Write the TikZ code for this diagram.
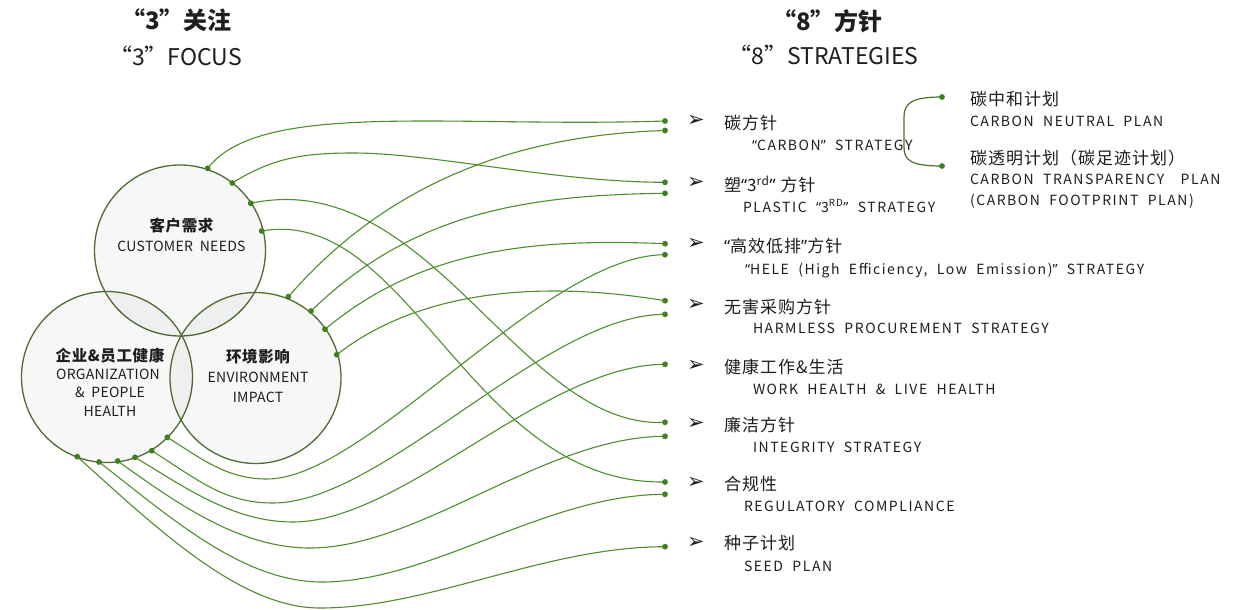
\documentclass[tikz,border=0pt]{standalone}
\usepackage{fontspec}
\setmainfont{Noto Sans CJK SC}
\newfontfamily\cjkl{Noto Sans CJK SC}[LetterSpace=6]
\newfontfamily\cjkc{Noto Sans CJK SC}[LetterSpace=4]
\newfontfamily\enf{Noto Sans CJK SC}[LetterSpace=11,WordSpace=2]
\newfontfamily\enc{Noto Sans CJK SC}[LetterSpace=2,WordSpace=2]
\newfontfamily\qf{Noto Sans}
\newfontfamily\dvs{DejaVu Sans}
\newcommand\oq{{\qf “}}
\newcommand\cq{{\qf ”}}
\newcommand\szL{\fontsize{17}{20}\selectfont}
\newcommand\szE{\fontsize{14}{17}\selectfont}
\newcommand\szC{\fontsize{15.5}{18}\selectfont}
\newcommand\szT{\fontsize{24}{28}\selectfont}
\newcommand\szTE{\fontsize{23}{27}\selectfont}
\definecolor{lnk}{RGB}{78,142,44}
\definecolor{dotc}{RGB}{62,128,30}
\definecolor{circ}{RGB}{78,108,52}
\definecolor{txt}{RGB}{30,30,30}
\begin{document}
\begin{tikzpicture}[x=1pt,y=-1pt,
  every node/.style={inner sep=0pt,outer sep=0pt,text=txt},
  ring/.style={draw=circ,line width=1.3pt,fill=black,fill opacity=0.03},
  link/.style={draw=lnk,line width=1.1pt},
  jdot/.style={fill=dotc,draw=none},
  cjk/.style={anchor=west,font=\cjkl\szL,text height=12.6pt,text depth=0pt},
  en/.style={anchor=west,font=\enf\szE,text height=10.3pt,text depth=0pt},
  ccjk/.style={anchor=center,font=\cjkc\szC\bfseries,text height=11.5pt,text depth=0pt},
  cen/.style={anchor=center,font=\enc\szE,text height=10.3pt,text depth=0pt},
  bul/.style={anchor=center,font=\dvs\fontsize{21}{23}\selectfont},
  ttl/.style={anchor=center,font=\szT\bfseries,text height=17.8pt,text depth=0pt},
  ttle/.style={anchor=center,font=\szTE,text height=17pt,text depth=0pt}]
\fill[white] (0,0) rectangle (1255,610);
\useasboundingbox (0,0) rectangle (1255,610);

% circles
\path[ring] (180,250.5) circle (85.5);
\path[ring] (107,377) circle (85.5);
\path[ring] (255.5,378) circle (85.5);

% left end points
\coordinate (c1) at (207.7,168.3);
\coordinate (c2) at (232.3,183);
\coordinate (c3) at (250.7,203.3);
\coordinate (c4) at (261.7,231);
\coordinate (e1) at (288.3,296.7);
\coordinate (e2) at (311,311);
\coordinate (e3) at (325,329.3);
\coordinate (e4) at (336.7,354.7);
\coordinate (o1) at (167.3,437.3);
\coordinate (o2) at (151.7,450.7);
\coordinate (o3) at (135,457.3);
\coordinate (o4) at (117.7,461);
\coordinate (o5) at (99,462);
\coordinate (o6) at (77.3,456.7);
% right end points
\coordinate (r1a) at (665,121);
\coordinate (r1b) at (665,130.5);
\coordinate (r2a) at (665,182.3);
\coordinate (r2b) at (665,193.3);
\coordinate (r3a) at (665,243.7);
\coordinate (r3b) at (665,254.7);
\coordinate (r4a) at (665,300.7);
\coordinate (r4b) at (665,314.3);
\coordinate (r5) at (665,364.3);
\coordinate (r6a) at (665,422.3);
\coordinate (r6b) at (665,436.3);
\coordinate (r7a) at (665,482);
\coordinate (r7b) at (665,494.3);
\coordinate (r8) at (665,546.7);
% way points
\coordinate (w2) at (353,153);
\coordinate (d1) at (267,479);
\coordinate (d2) at (273,503);
\coordinate (d3) at (293,522);
\coordinate (d4) at (310,548);
\coordinate (d5) at (322,582);
\coordinate (d6) at (320,608);

% connectors from customer needs
\draw[link] (c1) .. controls (260,100) and (450,128) .. (r1a);
\draw[link] (c2) .. controls +(40,-25) and +(-50,0) .. (w2) .. controls +(80,0) and +(-110,0) .. (r2a);
\draw[link] (c3) .. controls (430,165) and (520,430) .. (r6a);
\draw[link] (c4) .. controls (410,205) and (470,485) .. (r7a);
% connectors from environment impact
\draw[link] (e1) .. controls (390,180) and (520,135) .. (r1b);
\draw[link] (e2) .. controls (410,215) and (520,195) .. (r2b);
\draw[link] (e3) .. controls (420,250) and (530,238) .. (r3a);
\draw[link] (e4) .. controls (420,290) and (540,280) .. (r4a);
% connectors from organization & people health
\draw[link] (o1) .. controls +(35,22) and +(-40,0) .. (d1) .. controls +(100,0) and +(-120,0) .. (r3b);
\draw[link] (o2) .. controls +(45,28) and +(-50,0) .. (d2) .. controls +(110,0) and +(-120,0) .. (r4b);
\draw[link] (o3) .. controls +(50,30) and +(-60,0) .. (d3) .. controls +(110,0) and +(-120,0) .. (r5);
\draw[link] (o4) .. controls +(60,43) and +(-70,0) .. (d4) .. controls +(110,0) and +(-120,0) .. (r6b);
\draw[link] (o5) .. controls +(70,54) and +(-80,0) .. (d5) .. controls +(110,0) and +(-120,0) .. (r7b);
\draw[link] (o6) .. controls +(80,72) and +(-80,0) .. (d6) .. controls +(110,0) and +(-120,0) .. (r8);

% bracket for carbon plans
\coordinate (k1) at (942,97);
\coordinate (k2) at (942,166);
\coordinate (km1) at (904,117);
\coordinate (km2) at (904,147);
\draw[draw=circ!90!lnk,line width=1.2pt] (k1) .. controls +(-30,0) and +(0,-14) .. (km1) -- (km2) .. controls +(0,14) and +(-30,0) .. (k2);

% dots
\foreach \p in {c1,c2,c3,c4,e1,e2,e3,e4,o1,o2,o3,o4,o5,o6,r1a,r1b,r2a,r2b,r3a,r3b,r4a,r4b,r5,r6a,r6b,r7a,r7b,r8,k1,k2}
  \fill[jdot] (\p) circle (2.9);

% titles
\node[ttl] (t1) at (176.5,21) {“3”关注};
\node[ttle] (t2) at (175.5,57) {“3”FOCUS};
\node[ttl] (t3) at (827.5,22) {“8”方针};
\node[ttle] (t4) at (823.5,56) {“8”STRATEGIES};

% circle labels
\node[ccjk] (n1) at (181.5,226) {客户需求};
\node[cen] (n1e) at (181.5,246) {CUSTOMER NEEDS};
\node[ccjk] (n2) at (110,356) {企业\&员工健康};
\node[cen] (n2a) at (108,374) {ORGANIZATION};
\node[cen] (n2b) at (110,392.5) {\& PEOPLE};
\node[cen] (n2c) at (110,411) {HEALTH};
\node[ccjk] (n3) at (258,356.7) {环境影响};
\node[cen] (n3a) at (258,377.5) {ENVIRONMENT};
\node[cen] (n3b) at (258,397) {IMPACT};

% strategy list
\node[bul] (b1) at (696,121) {➢};
\node[cjk] (s1) at (724,123) {碳方针};
\node[en] (s1e) at (752,145) {\oq CARBON\cq{} STRATEGY};
\node[bul] (b2) at (696,183) {➢};
\node[cjk] (s2) at (724,185) {塑\oq 3\textsuperscript{rd}\cq{} 方针};
\node[en] (s2e) at (743,207) {PLASTIC \oq 3\textsuperscript{RD}\cq{} STRATEGY};
\node[bul] (b3) at (696,244) {➢};
\node[cjk] (s3) at (724,246) {\oq 高效低排\cq 方针};
\node[en] (s3e) at (745,269) {\oq HELE (High Efficiency, Low Emission)\cq{} STRATEGY};
\node[bul] (b4) at (696,305) {➢};
\node[cjk] (s4) at (724,307) {无害采购方针};
\node[en] (s4e) at (753,328.5) {HARMLESS PROCUREMENT STRATEGY};
\node[bul] (b5) at (696,366) {➢};
\node[cjk] (s5) at (724,367) {健康工作\&生活};
\node[en] (s5e) at (753,389.5) {WORK HEALTH \& LIVE HEALTH};
\node[bul] (b6) at (696,424) {➢};
\node[cjk] (s6) at (724,425) {廉洁方针};
\node[en] (s6e) at (753,447.5) {INTEGRITY STRATEGY};
\node[bul] (b7) at (696,483) {➢};
\node[cjk] (s7) at (724,484) {合规性};
\node[en] (s7e) at (744,506.5) {REGULATORY COMPLIANCE};
\node[bul] (b8) at (696,543) {➢};
\node[cjk] (s8) at (724,543.5) {种子计划};
\node[en] (s8e) at (744,566) {SEED PLAN};

% carbon sub plans
\node[cjk] (p1) at (970,99.5) {碳中和计划};
\node[en] (p1e) at (970,121.7) {CARBON NEUTRAL PLAN};
\node[cjk] (p2) at (970,158.3) {碳透明计划（碳足迹计划）};
\node[en] (p2e) at (970,179) {CARBON TRANSPARENCY\hspace{0.5em} PLAN};
\node[en] (p2f) at (970,200) {(CARBON FOOTPRINT PLAN)};
\end{tikzpicture}
\end{document}
